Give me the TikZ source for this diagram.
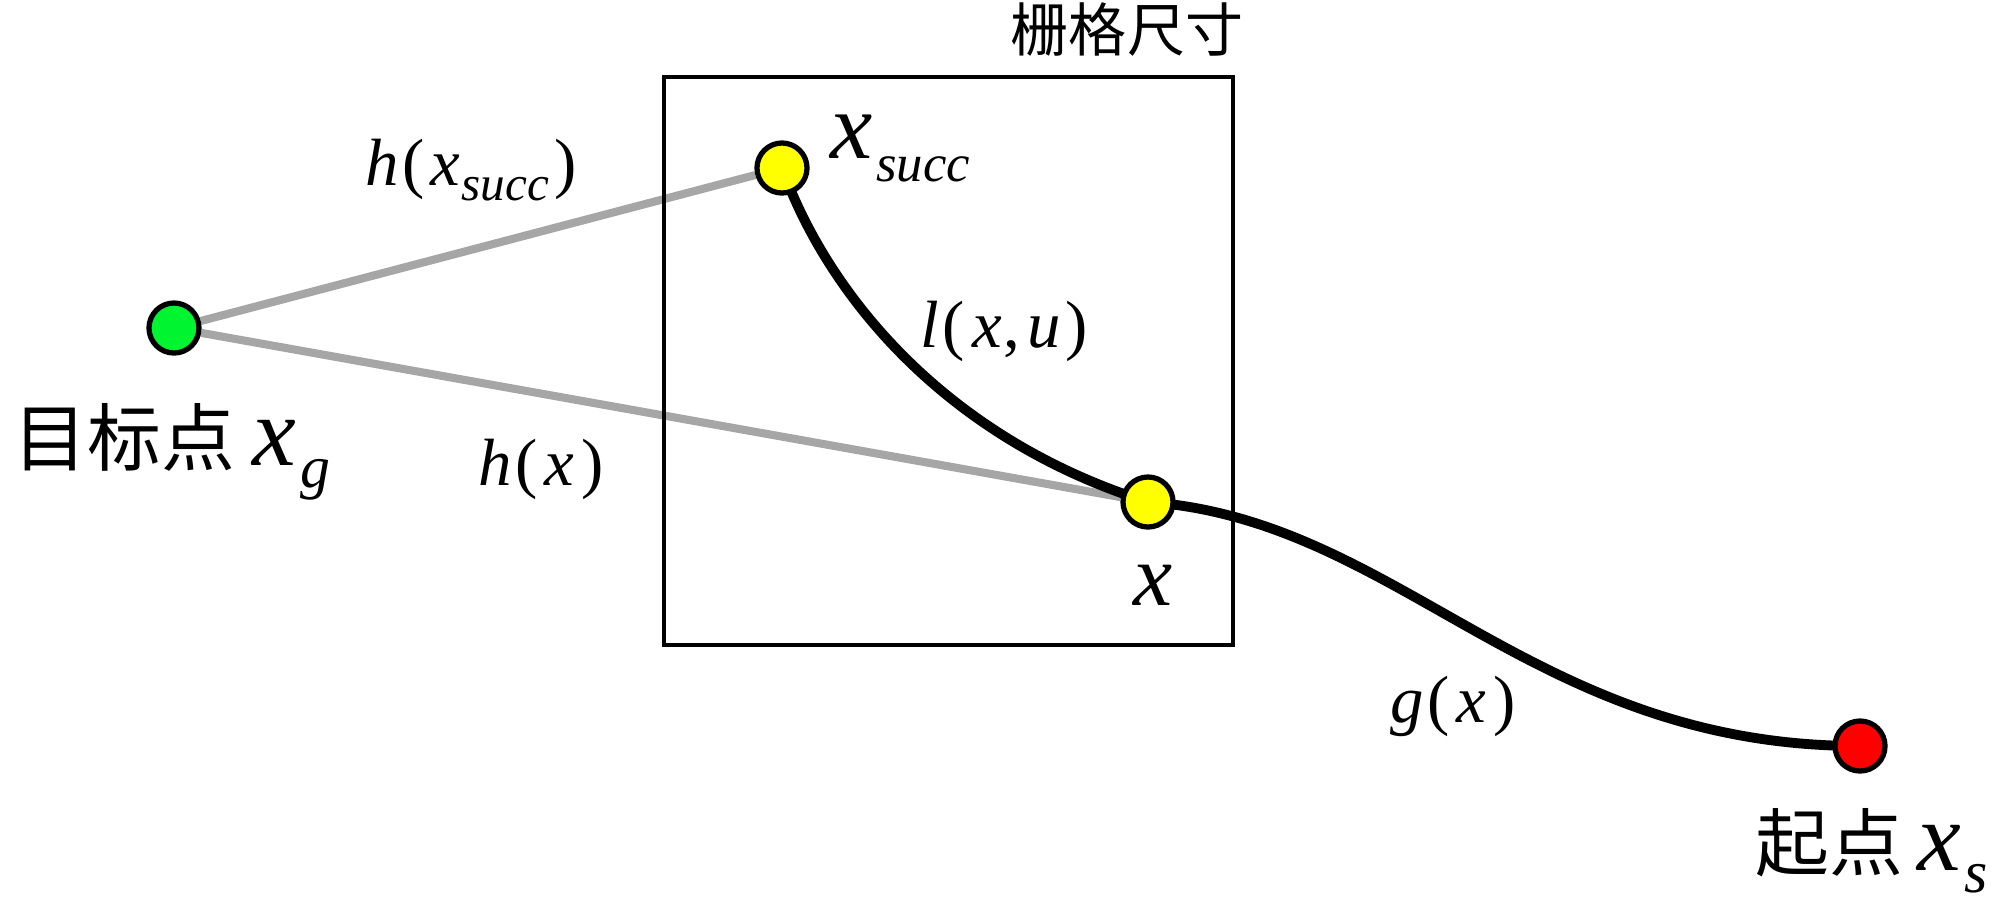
\documentclass[tikz,border=0pt]{standalone}
\usepackage{fontspec}
\setmainfont{Liberation Serif}
\newfontfamily\cjk{Noto Sans CJK SC}
\usetikzlibrary{positioning,backgrounds}
\definecolor{ziel}{HTML}{00F531}
\definecolor{nachf}{HTML}{FFFF00}
\definecolor{quelle}{HTML}{FF0000}
\definecolor{grau}{HTML}{A6A6A6}
\newcommand\gr[1]{\fontsize{#1}{#1}\selectfont}
\newcommand\unten[3]{\raisebox{-#1}{\gr{#2}\itshape #3}}
\tikzset{
  punkt/.style={circle,draw=black,line width=1.5pt,minimum size=0.5cm,inner sep=0pt},
  heur/.style={draw=grau,line width=2.3pt},
  pfad/.style={draw=black,line width=2.8pt},
  gitter/.style={draw=black,line width=1.2pt,minimum width=5.69cm,minimum height=5.68cm,inner sep=0pt},
  etikett/.style={inner sep=0pt,anchor=base west},
}
\begin{document}
\begin{tikzpicture}[x=0.01cm,y=-0.01cm]
\useasboundingbox (0,0) rectangle (1991,914);
\node[gitter] (zelle) at (948.5,361) {};
\node[inner sep=0pt,font=\cjk\gr{16.5}] (groesse) at (1127,30) {栅格尺寸};
\node[punkt,fill=ziel] (goal) at (174,328) {};
\node[punkt,fill=nachf] (succ) at (782,168) {};
\node[punkt,fill=nachf] (cur) at (1148,502) {};
\node[punkt,fill=quelle] (start) at (1860,746) {};
\begin{scope}[on background layer]
\draw[heur] (goal) -- (succ);
\draw[heur] (goal) -- (cur);
\draw[pfad] (succ.center) .. controls (830,300) and (950,440) .. (cur.center)
  .. controls (1400,520) and (1530,746) .. (start.center);
\end{scope}
% labels
\node[etikett] (lgoal) at (13,465) {{\cjk\gr{21}目标点}\kern5pt\gr{28}\textit{x}\kern1pt\unten{6.5pt}{17}{g}};
\node[etikett] (lstart) at (1755,870) {{\cjk\gr{21}起点}\kern4pt\gr{28}\textit{x}\kern1pt\unten{6.5pt}{17}{s}};
\node[etikett,font=\gr{27}] (lsucc) at (830,158) {\textit{x}\kern1pt\unten{6.8pt}{15}{succ}};
\node[etikett,font=\gr{25}] (lcur) at (1133,605) {\textit{x}};
\node[etikett,font=\gr{19}] (hsucc) at (365,185) {\textit{h}\kern1pt(\kern1.5pt\textit{x}\kern0.5pt\unten{4.3pt}{14}{succ}\kern1.5pt)};
\node[etikett,font=\gr{19}] (hcur) at (478,485) {\textit{h}\kern1pt(\kern2pt\textit{x}\kern2pt)};
\node[etikett,font=\gr{19}] (lxu) at (920,347) {\textit{l}\kern1pt(\kern2pt\textit{x}\kern0.5pt,\kern2pt\textit{u}\kern1.5pt)};
\node[etikett,font=\gr{19}] (gcur) at (1390,722) {\textit{g}\kern1pt(\kern2pt\textit{x}\kern2pt)};
\end{tikzpicture}
\end{document}
